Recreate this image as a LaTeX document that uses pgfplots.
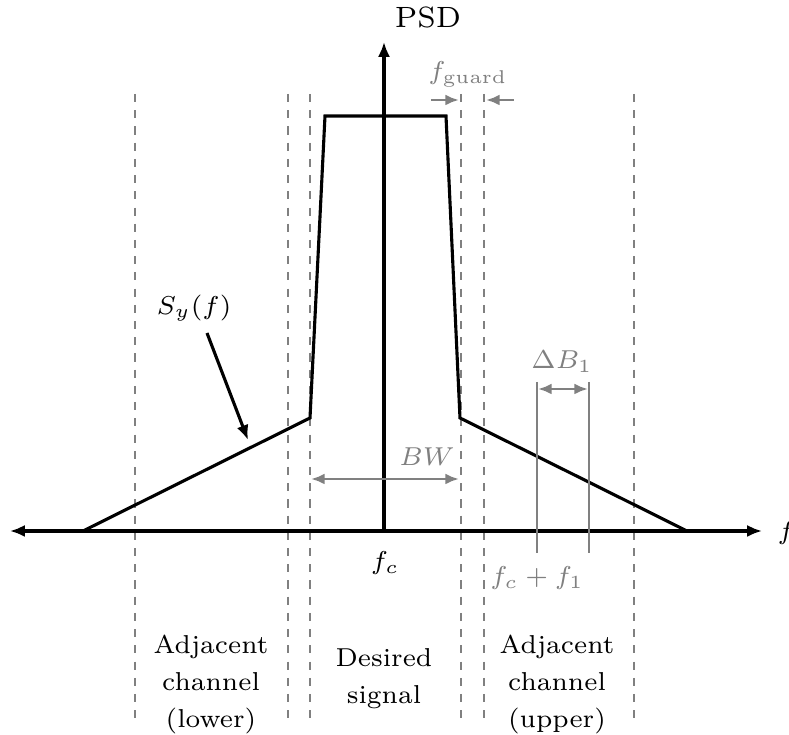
\documentclass[border=0pt]{standalone}
\usepackage{pgfplots}
\usepackage{graphicx}
\pgfplotsset{compat=1.18}
\usetikzlibrary{arrows.meta}
\newcommand{\T}[1]{\scalebox{1.37}{\fontsize{7}{10}\selectfont #1}}
\newcommand{\TT}[1]{\scalebox{1.55}{\fontsize{7}{10}\selectfont #1}}
\begin{document}
\begin{tikzpicture}
\begin{axis}[name=ax, x=0.37pt, y=0.37pt, xmin=0, xmax=789, ymin=-204, ymax=531,
  hide axis, clip=false,
  every axis plot/.append style={no marks}]
% dashed channel boundaries
\pgfplotsset{dsh/.style={gray, line width=1.1pt, dash pattern=on 3pt off 3pt}}
\addplot[dsh] coordinates {(135,437) (135,-189)};
\addplot[dsh] coordinates {(288,437) (288,-189)};
\addplot[dsh] coordinates {(310,437) (310,-189)};
\addplot[dsh] coordinates {(461,437) (461,-189)};
\addplot[dsh] coordinates {(484,437) (484,-189)};
\addplot[dsh] coordinates {(634,437) (634,-189)};
% axes
\addplot[black, line width=1.15pt, {Latex[length=5.5pt,width=4.5pt]}-{Latex[length=5.5pt,width=4.5pt]}] coordinates {(10,0) (762,0)};
\addplot[black, line width=1.15pt, -{Latex[length=5.5pt,width=4.5pt]}] coordinates {(384,0) (384,489)};
% PSD
\addplot[black, line width=1.15pt] coordinates {(83,0) (310,113) (325,415) (446,415) (460,113) (687,0)};
% guard arrows
\addplot[gray, line width=1.1pt, -{Latex[length=5pt,width=4pt]}] coordinates {(431,431) (459,431)};
\addplot[gray, line width=1.1pt, -{Latex[length=5pt,width=4pt]}] coordinates {(514,431) (486,431)};
% BW
\addplot[gray, line width=1.1pt, {Latex[length=5pt,width=4pt]}-{Latex[length=5pt,width=4pt]}] coordinates {(311,52) (459,52)};
% Delta B1
\addplot[gray, line width=1.1pt] coordinates {(537,149) (537,-22)};
\addplot[gray, line width=1.1pt] coordinates {(589,149) (589,-22)};
\addplot[gray, line width=1.1pt, {Latex[length=5pt,width=4pt]}-{Latex[length=5pt,width=4pt]}] coordinates {(538,142) (588,142)};
% S_y arrow
\addplot[black, line width=1.15pt, -{Latex[length=5.5pt,width=4.5pt]}] coordinates {(207,198) (248,91)};
% labels
\node at (axis cs:428,514) {\TT{PSD}};
\node[anchor=base west, inner sep=0pt] at (axis cs:777,-9) {\T{$f$}};
\node[gray] at (axis cs:468,457) {\T{$f_{\mathrm{guard}}$}};
\node[gray] at (axis cs:427,74) {\T{$BW$}};
\node[gray] at (axis cs:562,169) {\T{$\Delta B_1$}};
\node at (axis cs:194,223) {\T{$S_y(f)$}};
\node at (axis cs:385,-32) {\T{$f_c$}};
\node[gray] at (axis cs:537,-47) {\T{$f_c+f_1$}};
\node at (axis cs:211,-152) {\T{\begin{tabular}{@{}c@{}}Adjacent\\channel\\(lower)\end{tabular}}};
\node at (axis cs:384,-147) {\T{\begin{tabular}{@{}c@{}}Desired\\signal\end{tabular}}};
\node at (axis cs:557,-152) {\T{\begin{tabular}{@{}c@{}}Adjacent\\channel\\(upper)\end{tabular}}};
\end{axis}
\pgfresetboundingbox
\useasboundingbox (ax.south west) rectangle (ax.north east);
\end{tikzpicture}
\end{document}
